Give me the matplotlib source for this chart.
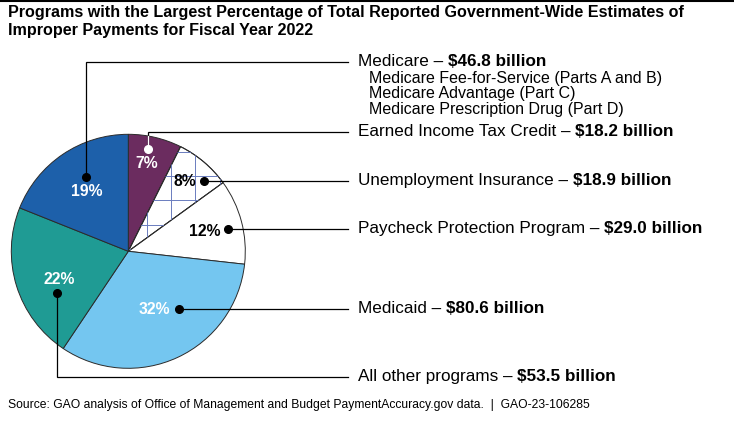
import numpy as np
import matplotlib.pyplot as plt
from matplotlib import font_manager

# data
programs = ['Earned Income Tax Credit', 'Unemployment Insurance',
            'Paycheck Protection Program', 'Medicaid',
            'All other programs', 'Medicare']
billions = [18.2, 18.9, 29.0, 80.6, 53.5, 46.8]
pct_labels = ['7%', '8%', '12%', '32%', '22%', '19%']
medicare_parts = ['Medicare Fee-for-Service (Parts A and B)',
                  'Medicare Advantage (Part C)',
                  'Medicare Prescription Drug (Part D)']

colors = ['#6B2C5F', 'white', 'white', '#74C6F0', '#1F9B94', '#1D60AA']
pct_colors = ['white', 'black', 'black', 'white', 'white', 'white']

W, H = 734, 424
names = {f.name for f in font_manager.fontManager.ttflist}
narrow = 'Liberation Sans Narrow' if 'Liberation Sans Narrow' in names else 'Liberation Sans'
plt.rcParams['font.family'] = ['Liberation Sans', 'DejaVu Sans']

fig = plt.figure(figsize=(W / 100, H / 100), dpi=100)
ax = fig.add_axes([0, 0, 1, 1])
ax.set_xlim(0, W)
ax.set_ylim(0, H)
ax.axis('off')

def Y(y):
    # image row -> axes y
    return H - y

cx, cy, R = 128.3, 251.3, 117
wedges, _ = ax.pie(billions, startangle=90, counterclock=False,
                   center=(cx, Y(cy)), radius=R, colors=colors,
                   wedgeprops=dict(edgecolor='#2b2b2b', linewidth=0.7))
ax.set_xlim(0, W)
ax.set_ylim(0, H)
ax.set_aspect('auto')

# grid hatch on unemployment slice
step = 24.3
for gx in np.arange(cx + 18.4 - 5 * step, cx + R, step):
    ln, = ax.plot([gx, gx], [Y(cy - R), Y(cy + R)], color='#6A7CBE', lw=0.7)
    ln.set_clip_path(wedges[1])
for gy in np.arange(cy - 75.3 - 5 * step, cy + R, step):
    ln, = ax.plot([cx - R, cx + R], [Y(gy), Y(gy)], color='#6A7CBE', lw=0.7)
    ln.set_clip_path(wedges[1])
# redraw slice outline above grid
ax.add_patch(plt.matplotlib.patches.Wedge(wedges[1].center, wedges[1].r,
             wedges[1].theta1, wedges[1].theta2, facecolor='none',
             edgecolor='#2b2b2b', linewidth=0.7))

# percentage labels
pct_pos = [(147, 163), (185, 181), (205, 231), (154, 309), (59, 279), (87, 192)]
for lab, (px, py), c in zip(pct_labels, pct_pos, pct_colors):
    ax.text(px, Y(py), lab, color=c, fontsize=11.3, fontweight='bold',
            ha='center', va='center')

# leaders: dot, path corner, text row
x_end = 348
x_text = 358
rows = [131.5, 180.5, 228.5, 308.5, 376.5, 61.5]
dots = [(148, 149), (204, 180.5), (228, 229), (179, 308.5), (57, 293), (86, 177)]
for (dx, dy), ry in zip(dots, rows):
    ax.plot([dx, dx, x_end], [Y(dy), Y(ry), Y(ry)], color='black', lw=0.9,
            solid_joinstyle='miter')
# white part of the EITC leader inside the purple slice
top_edge = cy - np.sqrt(R ** 2 - (dots[0][0] - cx) ** 2)
ax.plot([dots[0][0]] * 2, [Y(dots[0][1]), Y(top_edge)], color='white', lw=0.9)
for i, (dx, dy) in enumerate(dots):
    ax.plot(dx, Y(dy), 'o', ms=5.5, color='white' if i == 0 else 'black')

# right-hand labels: name regular + amount bold
for name, val, ry in zip(programs, billions, rows):
    t = ax.text(x_text, Y(ry), name + ' \u2013 ', fontsize=12.3,
                ha='left', va='center')
    ax.annotate('$%.1f billion' % val, xy=(1, 0), xycoords=t,
                fontsize=12.3, fontweight='bold', ha='left', va='bottom')

for i, part in enumerate(medicare_parts):
    ax.text(369, Y(78.5 + 15.3 * i), part, fontsize=11.5, ha='left', va='center')

# title, source, top rule
ax.text(8, Y(12.5), 'Programs with the Largest Percentage of Total Reported Government-Wide Estimates of',
        fontsize=11.6, fontweight='bold', family=narrow, ha='left', va='center')
ax.text(8, Y(31), 'Improper Payments for Fiscal Year 2022',
        fontsize=11.6, fontweight='bold', family=narrow, ha='left', va='center')
ax.text(8, Y(405), 'Source: GAO analysis of Office of Management and Budget PaymentAccuracy.gov data.  |  GAO-23-106285',
        fontsize=8.7, family=narrow, ha='left', va='center')
ax.plot([0, W], [H - 0.7, H - 0.7], color='black', lw=1.5)

fig.savefig('out.png', dpi=100)
